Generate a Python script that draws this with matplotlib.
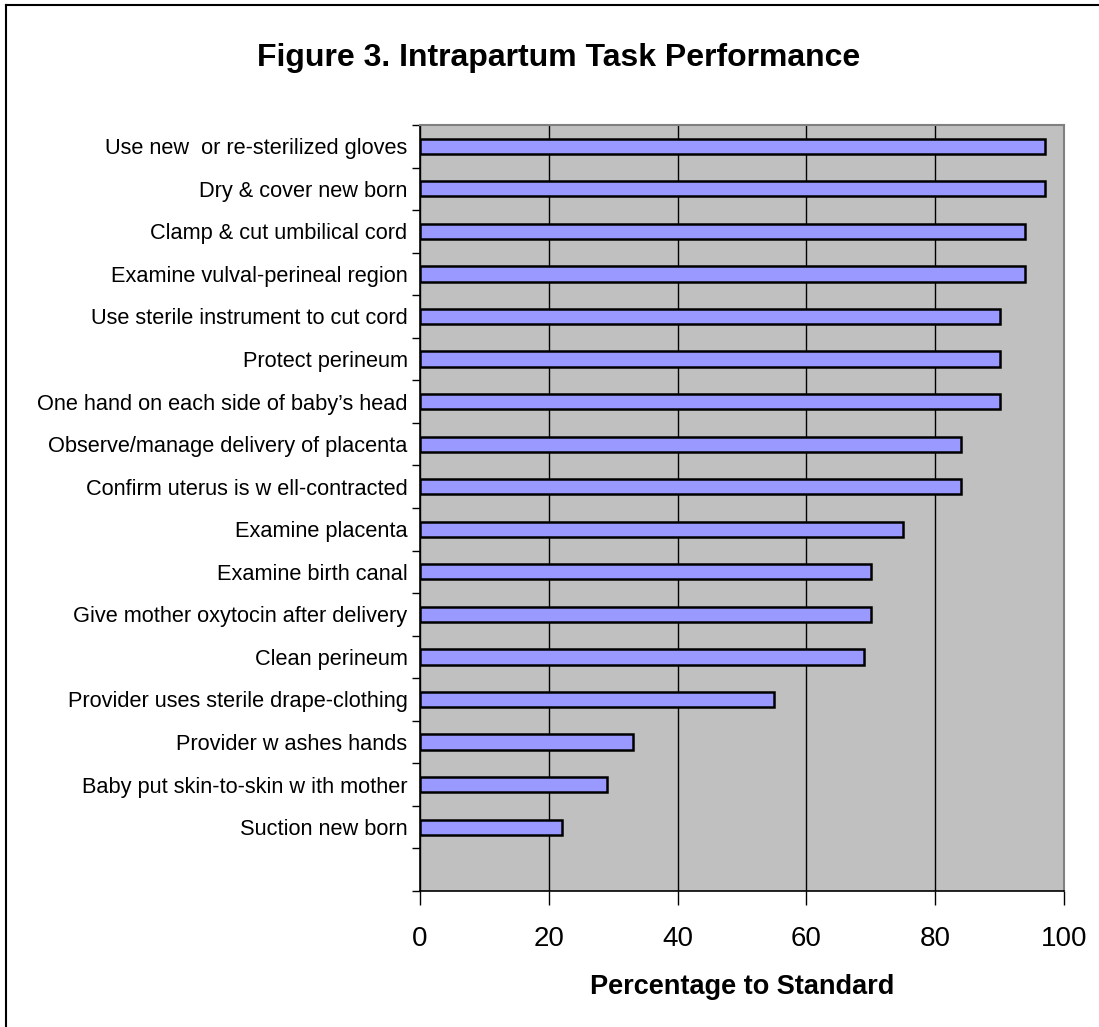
import numpy as np
import matplotlib.pyplot as plt
from matplotlib.ticker import FixedLocator

plt.rcParams['font.family'] = ['Liberation Sans', 'DejaVu Sans']

# data, top to bottom
tasks = [
    'Use new  or re-sterilized gloves',
    'Dry & cover new born',
    'Clamp & cut umbilical cord',
    'Examine vulval-perineal region',
    'Use sterile instrument to cut cord',
    'Protect perineum',
    'One hand on each side of baby\u2019s head',
    'Observe/manage delivery of placenta',
    'Confirm uterus is w ell-contracted',
    'Examine placenta',
    'Examine birth canal',
    'Give mother oxytocin after delivery',
    'Clean perineum',
    'Provider uses sterile drape-clothing',
    'Provider w ashes hands',
    'Baby put skin-to-skin w ith mother',
    'Suction new born',
]
pct = [97, 97, 94, 94, 90, 90, 90, 84, 84, 75, 70, 70, 69, 55, 33, 29, 22]
xticks = [0, 20, 40, 60, 80, 100]

W, H = 1099, 1027
fig = plt.figure(figsize=(W / 100, H / 100), dpi=100)
ax = fig.add_axes([420 / W, 1 - 891 / H, (1064 - 420) / W, (891 - 125) / H])

n = len(tasks)
ypos = np.arange(n)[::-1]  # first task on top, one empty slot below the last
ax.set_facecolor('#C0C0C0')
ax.barh(ypos, pct, height=0.36, color='#9999FF', edgecolor='black', linewidth=1.8, zorder=3)

ax.set_xlim(0, 100)
ax.set_ylim(-1.5, n - 0.5)
ax.set_xticks(xticks)
ax.set_xticklabels([str(t) for t in xticks], fontsize=20)
ax.tick_params(axis='x', direction='out', length=10, width=1, pad=15)
ax.xaxis.grid(True, color='black', linewidth=1, zorder=1)

ax.set_yticks(ypos)
ax.set_yticklabels(tasks, fontsize=15.7)
ax.tick_params(axis='y', which='major', length=0, pad=9)
ax.yaxis.set_minor_locator(FixedLocator(np.arange(-1.5, n, 1.0)))
ax.tick_params(axis='y', which='minor', direction='out', length=6, width=1)

for side in ['left', 'bottom']:
    ax.spines[side].set_color('black')
    ax.spines[side].set_linewidth(1.2)
for side in ['top', 'right']:
    ax.spines[side].set_color('#808080')
    ax.spines[side].set_linewidth(1.5)

ax.set_xlabel('Percentage to Standard', fontsize=19.5, fontweight='bold', labelpad=16)
fig.text(559 / W, 1 - 58 / H, 'Figure 3. Intrapartum Task Performance',
         ha='center', va='center', fontsize=23, fontweight='bold')

# outer chart border (cropped at right and bottom)
fig.add_artist(plt.Line2D([6 / W, 6 / W], [0, 1 - 5 / H], color='black', linewidth=1.5,
                          transform=fig.transFigure))
fig.add_artist(plt.Line2D([6 / W, 1], [1 - 5 / H, 1 - 5 / H], color='black', linewidth=1.5,
                          transform=fig.transFigure))

fig.savefig('out.png', dpi=100, facecolor='white')
